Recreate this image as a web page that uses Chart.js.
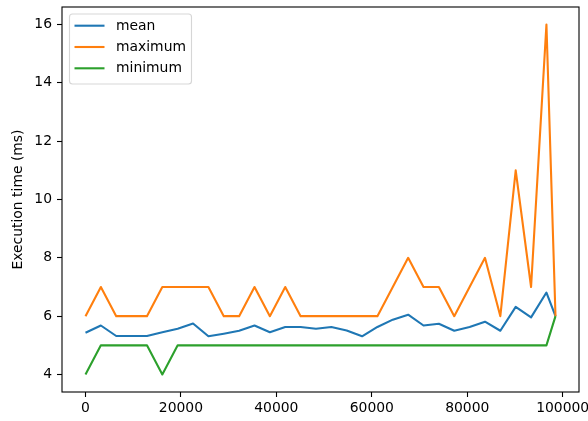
<!DOCTYPE html>
<html>
<head>
<meta charset="utf-8">
<script src="https://cdn.jsdelivr.net/npm/chart.js@4"></script>
<style>
  html, body { margin: 0; padding: 0; background: #fff; }
  canvas { display: block; }
</style>
</head>
<body>
<canvas id="chart" width="588" height="421"></canvas>
<script>
// Input sizes and measured execution times (ms)
const sizes = [0, 3220, 6440, 9660, 12880, 16100, 19320, 22540, 25760, 28980,
  32200, 35420, 38640, 41860, 45080, 48300, 51520, 54740, 57960, 61180,
  64400, 67620, 70840, 74060, 77280, 80500, 83720, 86940, 90160, 93380,
  96600, 98500];
const meanTimes = [5.43, 5.68, 5.32, 5.32, 5.32, 5.45, 5.57, 5.75, 5.31, 5.40,
  5.50, 5.68, 5.45, 5.63, 5.63, 5.57, 5.63, 5.51, 5.31, 5.63,
  5.88, 6.05, 5.68, 5.74, 5.50, 5.63, 5.81, 5.50, 6.32, 5.96,
  6.81, 6.00];
const maxTimes = [6, 7, 6, 6, 6, 7, 7, 7, 7, 6,
  6, 7, 6, 7, 6, 6, 6, 6, 6, 6,
  7, 8, 7, 7, 6, 7, 8, 6, 11, 7,
  16, 6];
const minTimes = [4, 5, 5, 5, 5, 4, 5, 5, 5, 5,
  5, 5, 5, 5, 5, 5, 5, 5, 5, 5,
  5, 5, 5, 5, 5, 5, 5, 5, 5, 5,
  5, 6];
const seriesNames = ['mean', 'maximum', 'minimum'];
const xTicks = [0, 20000, 40000, 60000, 80000, 100000];
const yTicks = [4, 6, 8, 10, 12, 14, 16];
const yTitle = 'Execution time (ms)';

const FONT = 'DejaVu Sans';
const FS = 13.9;

function toPoints(ys) { return sizes.map((x, i) => ({ x: x, y: ys[i] })); }
function padded(vals) {
  const lo = Math.min(...vals), hi = Math.max(...vals), m = (hi - lo) * 0.05;
  return [lo - m, hi + m];
}
const [xMin, xMax] = padded(sizes);
const [yMin, yMax] = padded([...meanTimes, ...maxTimes, ...minTimes]);

function lineSet(label, data, color, order) {
  return {
    label, data: toPoints(data), borderColor: color, backgroundColor: color,
    borderWidth: 2.1, pointRadius: 0, tension: 0, fill: false,
    borderJoinStyle: 'round', borderCapStyle: 'butt', order
  };
}

// fixed axis box sizes, no extra room for overhanging tick labels
function fixBox(s, prop, size) {
  s[prop] = size;
  s.paddingLeft = 0; s.paddingRight = 0; s.paddingTop = 0; s.paddingBottom = 0;
}

// Axes frame (all four spines)
const framePlugin = {
  id: 'frame',
  afterDraw(chart) {
    const { ctx, chartArea: a } = chart;
    ctx.save();
    ctx.strokeStyle = '#000';
    ctx.lineWidth = 1.1;
    ctx.strokeRect(a.left, a.top, a.right - a.left, a.bottom - a.top);
    ctx.restore();
  }
};

// Boxed legend in the upper-left corner of the plot
const boxLegend = {
  id: 'boxLegend',
  afterDatasetsDraw(chart) {
    const { ctx, chartArea: a } = chart;
    const x0 = a.left + 7.5, y0 = a.top + 7, w = 122, h = 70, r = 3;
    ctx.save();
    ctx.beginPath();
    ctx.moveTo(x0 + r, y0);
    ctx.arcTo(x0 + w, y0, x0 + w, y0 + h, r);
    ctx.arcTo(x0 + w, y0 + h, x0, y0 + h, r);
    ctx.arcTo(x0, y0 + h, x0, y0, r);
    ctx.arcTo(x0, y0, x0 + w, y0, r);
    ctx.closePath();
    ctx.fillStyle = 'rgba(255,255,255,0.8)';
    ctx.fill();
    ctx.strokeStyle = 'rgba(204,204,204,0.8)';
    ctx.lineWidth = 1.1;
    ctx.stroke();
    ctx.font = FS + 'px "' + FONT + '"';
    ctx.textBaseline = 'middle';
    ctx.textAlign = 'left';
    chart.data.datasets.forEach((ds, i) => {
      const yy = y0 + 11.7 + i * 21.3;
      ctx.strokeStyle = ds.borderColor;
      ctx.lineWidth = 2.1;
      ctx.beginPath();
      ctx.moveTo(x0 + 5, yy);
      ctx.lineTo(x0 + 35, yy);
      ctx.stroke();
      ctx.fillStyle = '#000';
      ctx.fillText(ds.label, x0 + 46.5, yy + 0.5);
    });
    ctx.restore();
  }
};

new Chart(document.getElementById('chart'), {
  type: 'line',
  data: {
    datasets: [
      lineSet(seriesNames[0], meanTimes, '#1f77b4', 3),
      lineSet(seriesNames[1], maxTimes, '#ff7f0e', 2),
      lineSet(seriesNames[2], minTimes, '#2ca02c', 1)
    ]
  },
  options: {
    responsive: false,
    animation: false,
    devicePixelRatio: 1,
    layout: { padding: { top: 7, right: 9, left: 0, bottom: 0 } },
    plugins: { legend: { display: false }, tooltip: { enabled: false } },
    scales: {
      x: {
        type: 'linear', min: xMin, max: xMax,
        afterBuildTicks: s => { s.ticks = xTicks.map(v => ({ value: v })); },
        afterFit: s => fixBox(s, 'height', 29),
        ticks: {
          callback: v => String(v), autoSkip: false, maxRotation: 0,
          color: '#000', font: { family: FONT, size: FS }, padding: 3
        },
        grid: { drawOnChartArea: false, drawTicks: true, tickLength: 5, tickWidth: 1.1, tickColor: '#000' },
        border: { display: false }
      },
      y: {
        type: 'linear', min: yMin, max: yMax,
        afterBuildTicks: s => { s.ticks = yTicks.map(v => ({ value: v })); },
        afterFit: s => fixBox(s, 'width', 62),
        ticks: {
          callback: v => String(v), autoSkip: false,
          color: '#000', font: { family: FONT, size: FS }, padding: 5
        },
        grid: { drawOnChartArea: false, drawTicks: true, tickLength: 5, tickWidth: 1.1, tickColor: '#000' },
        border: { display: false },
        title: {
          display: true, text: yTitle, color: '#000',
          font: { family: FONT, size: FS }, padding: { top: 10, bottom: 0 }
        }
      }
    }
  },
  plugins: [framePlugin, boxLegend]
});
</script>
</body>
</html>
